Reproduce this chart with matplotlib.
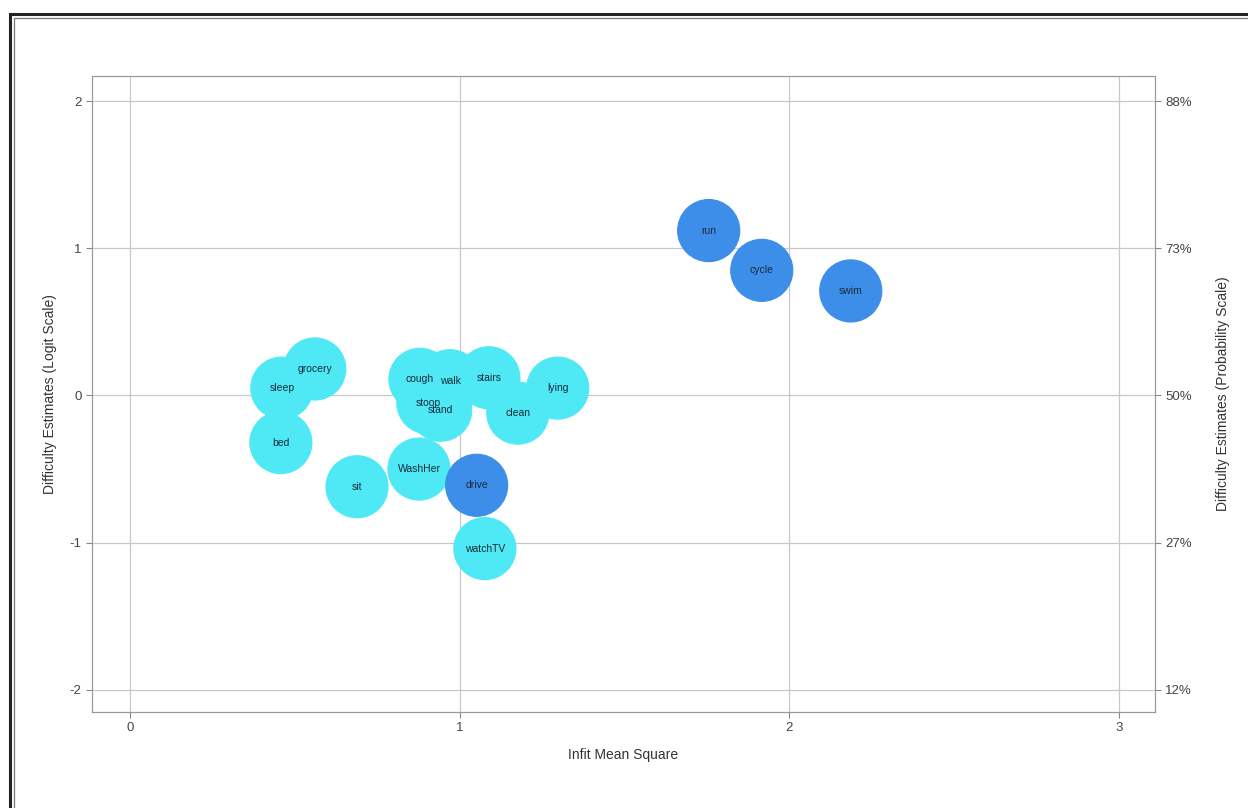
import numpy as np
import matplotlib.pyplot as plt
from matplotlib.patches import Rectangle

plt.rcParams['font.family'] = ['Liberation Sans', 'DejaVu Sans']
plt.rcParams['axes.unicode_minus'] = False

items = ['run', 'cycle', 'swim', 'grocery', 'sleep', 'bed', 'sit', 'WashHer',
         'cough', 'walk', 'stoop', 'stand', 'stairs', 'clean', 'lying', 'drive', 'watchTV']
infit = [1.756, 1.917, 2.187, 0.561, 0.461, 0.458, 0.689, 0.877,
         0.880, 0.971, 0.904, 0.943, 1.089, 1.177, 1.298, 1.052, 1.077]
difficulty = [1.12, 0.85, 0.71, 0.18, 0.05, -0.32, -0.62, -0.50,
              0.11, 0.10, -0.05, -0.10, 0.12, -0.12, 0.05, -0.61, -1.04]
misfit = [1, 1, 1, 0, 0, 0, 0, 0, 0, 0, 0, 0, 0, 0, 0, 1, 0]

logit_ticks = [-2, -1, 0, 1, 2]
prob_labels = ['12%', '27%', '50%', '73%', '88%']

fig = plt.figure(figsize=(12.48, 8.08), dpi=100)
ax = fig.add_axes([92 / 1248, 1 - 712 / 808, (1155 - 92) / 1248, (712 - 76) / 808])

# double frame around the figure
fig.patches.append(Rectangle((10 / 1248, -0.05), 1.1, 1 - 14 / 808 + 0.05, transform=fig.transFigure,
                             fill=False, ec='#222222', lw=2.2))
fig.patches.append(Rectangle((14 / 1248, -0.05), 1.1, 1 - 18 / 808 + 0.05, transform=fig.transFigure,
                             fill=False, ec='#777777', lw=0.9))

colors = ['#3d8ee8' if m else '#4fe9f6' for m in misfit]
ax.scatter(infit, difficulty, s=2000, c=colors, edgecolors=colors, linewidths=0.8, zorder=3)
for name, x, y in zip(items, infit, difficulty):
    ax.text(x, y, name, ha='center', va='center', fontsize=7.5, color='#1a2a3a', zorder=4)

ax.set_xlim(-0.115, 3.11)
ax.set_ylim(-2.15, 2.17)
ax.set_xticks([0, 1, 2, 3])
ax.set_yticks(logit_ticks)
ax.grid(True, color='#c8c8c8', lw=0.9, zorder=0)
ax.tick_params(colors='#444444', labelsize=9.5, length=4, color='#888888')
for sp in ax.spines.values():
    sp.set_color('#999999')
ax.set_xlabel('Infit Mean Square', fontsize=10, color='#333333', labelpad=10)
ax.set_ylabel('Difficulty Estimates (Logit Scale)', fontsize=10, color='#333333', labelpad=9)

ax2 = ax.twinx()
ax2.set_ylim(ax.get_ylim())
ax2.set_yticks(logit_ticks)
ax2.set_yticklabels(prob_labels)
ax2.tick_params(colors='#444444', labelsize=9.5, length=4, color='#888888')
for sp in ax2.spines.values():
    sp.set_color('#999999')
ax2.set_ylabel('Difficulty Estimates (Probability Scale)', fontsize=10, color='#333333', labelpad=17)

fig.savefig('out.png', dpi=100)
